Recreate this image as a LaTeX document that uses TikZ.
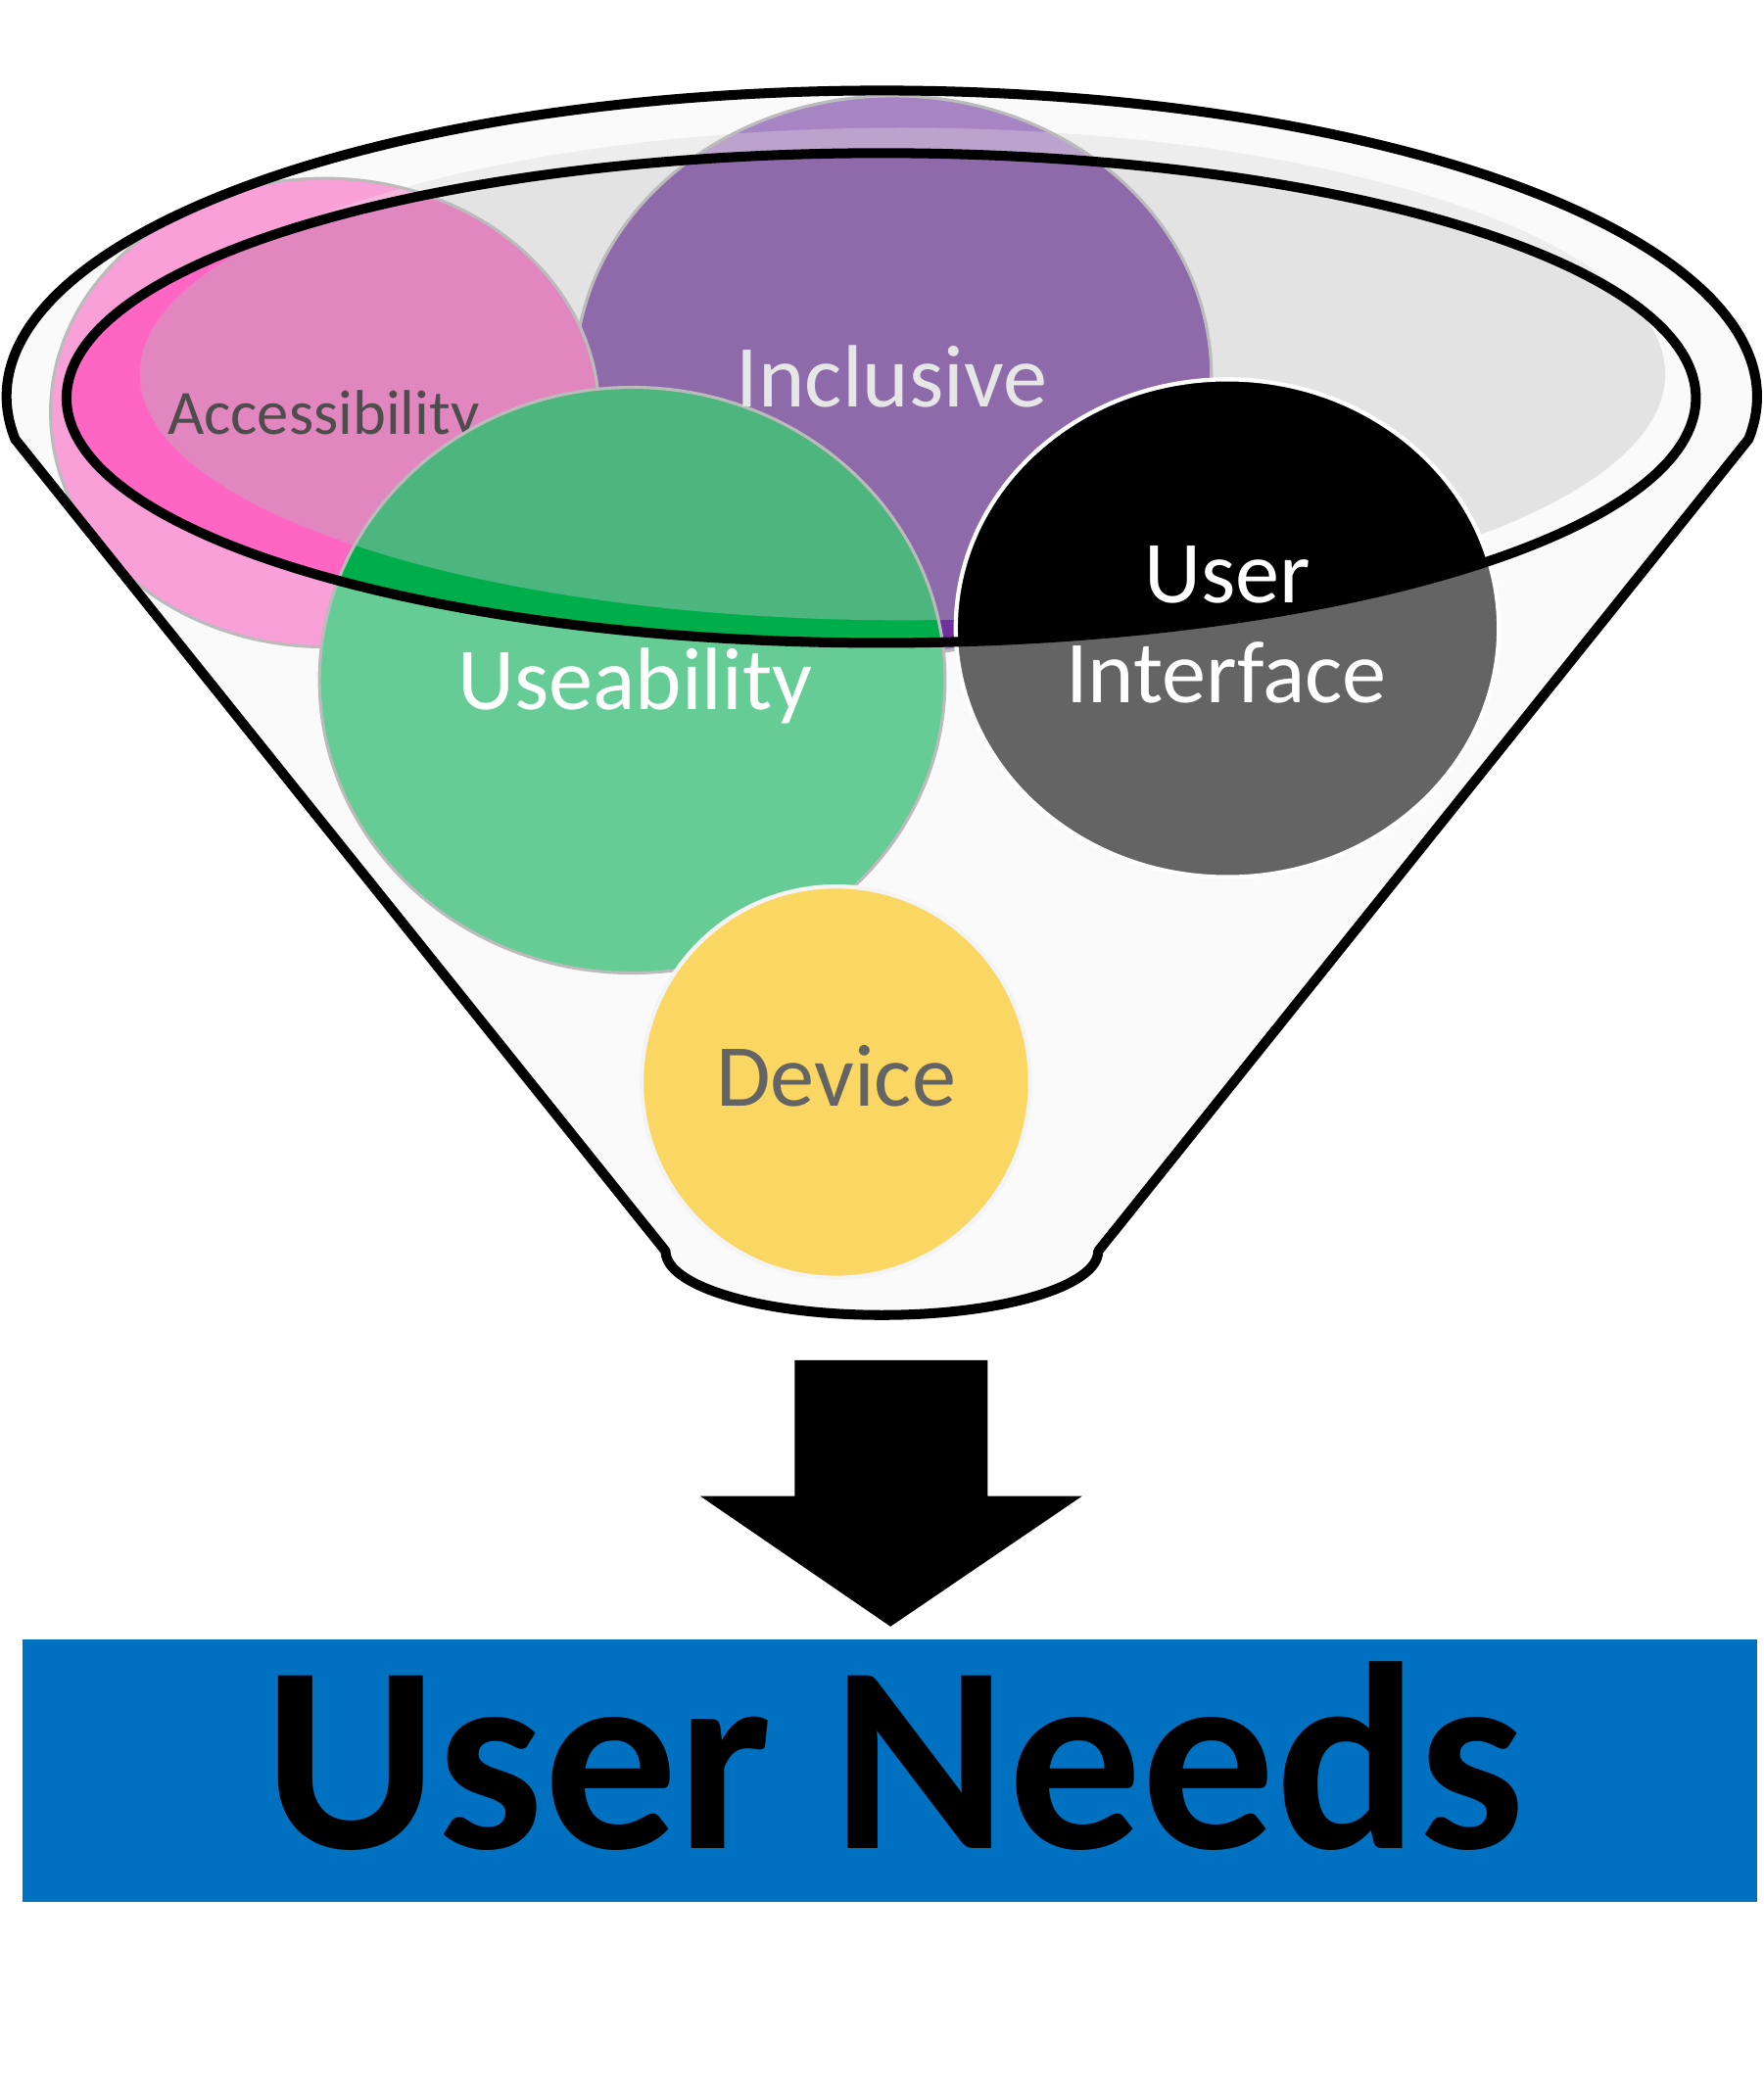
\documentclass[tikz,border=0pt]{standalone}
\usepackage{fontspec}
\setmainfont{Carlito}
\definecolor{funfill}{HTML}{FAFAFA}
\definecolor{bandgray}{HTML}{EDEDED}
\definecolor{ingray}{HTML}{E3E3E3}
\definecolor{pinkA}{HTML}{F9A0D8}
\definecolor{pinkB}{HTML}{F5B7DE}
\definecolor{pinkC}{HTML}{E286C0}
\definecolor{pinkD}{HTML}{FF66C4}
\definecolor{purA}{HTML}{A785C5}
\definecolor{purB}{HTML}{BBA3CD}
\definecolor{purC}{HTML}{8E6AAA}
\definecolor{purD}{HTML}{7030A0}
\definecolor{grnA}{HTML}{66CC96}
\definecolor{grnC}{HTML}{4DB57E}
\definecolor{grnD}{HTML}{00AD4B}
\definecolor{uiA}{HTML}{646464}
\definecolor{devfill}{HTML}{FAD662}
\definecolor{devring}{HTML}{F4F4F4}
\definecolor{ringgray}{HTML}{BBBBBB}
\definecolor{needblue}{HTML}{0070C0}
\definecolor{acctext}{HTML}{4D4D4D}
\definecolor{incltext}{HTML}{E6E6E6}
\definecolor{devtext}{HTML}{646464}
% #1 centre, #2 rx, #3 ry, #4 A (outside), #5 B (grey band outside rim), #6 D (inside rim), #7 C (inside rim and grey), #8 outline
\newcommand\lcirc[8]{%
  \fill[#4] #1 ellipse[x radius=#2,y radius=#3];
  \begin{scope}
    \clip (678,281) ellipse[x radius=573,y radius=185];
    \fill[#5] #1 ellipse[x radius=#2,y radius=#3];
  \end{scope}
  \begin{scope}
    \clip (662,299) ellipse[x radius=612,y radius=184];
    \fill[#6] #1 ellipse[x radius=#2,y radius=#3];
  \end{scope}
  \begin{scope}
    \clip (662,299) ellipse[x radius=612,y radius=184];
    \clip (678,281) ellipse[x radius=573,y radius=185];
    \fill[#7] #1 ellipse[x radius=#2,y radius=#3];
  \end{scope}
  \draw[#8] #1 ellipse[x radius=#2,y radius=#3];
}
\begin{document}
\begin{tikzpicture}[x=0.01cm,y=-0.01cm,
  funnelline/.style={line width=2.1pt,line join=round},
  greyring/.style={draw=ringgray,line width=0.65pt},
  whitering/.style={draw=white,line width=0.9pt},
  bubble/.style={anchor=base,inner sep=0pt,font=\fontsize{18.9}{22}\selectfont}]
\useasboundingbox (0,0) rectangle (1325,1568);
\fill[white] (0,0) rectangle (1325,1568);
% funnel body
\fill[funfill] (11.4,330) arc[start angle=172,end angle=368,x radius=657.5,y radius=230]
  -- (825,940) arc[start angle=0,end angle=180,x radius=162.5,y radius=48] -- cycle;
% grey inner ellipse
\fill[bandgray] (678,281) ellipse[x radius=573,y radius=185];
\begin{scope}
  \clip (662,299) ellipse[x radius=612,y radius=184];
  \fill[funfill] (0,0) rectangle (1325,700);
  \fill[ingray] (678,281) ellipse[x radius=573,y radius=185];
\end{scope}
% bubbles
\lcirc{(671,282)}{239}{210}{purA}{purB}{purD}{purC}{greyring}
\lcirc{(244,310)}{206}{176}{pinkA}{pinkB}{pinkD}{pinkC}{greyring}
\node[anchor=base,inner sep=0pt,text=acctext,font=\fontsize{13.5}{16}\selectfont] (acc) at (243,326) {Accessibility};
\lcirc{(475,511)}{235}{220}{grnA}{grnA}{grnD}{grnC}{greyring}
\lcirc{(922,472)}{204}{187}{uiA}{uiA}{black}{black}{whitering}
\fill[devfill] (628,813) ellipse[x radius=146,y radius=147];
\draw[draw=devring,line width=0.9pt] (628,813) ellipse[x radius=146,y radius=147];
% labels
\node[bubble,text=incltext] (incl) at (670,306) {Inclusive};
\node[bubble,text=white] (use) at (477,533) {Useability};
\node[bubble,text=white] (ui1) at (922,453) {User};
\node[bubble,text=white] (ui2) at (921,528) {Interface};
\node[bubble,text=devtext] (dev) at (628,831) {Device};
% rim and outline
\draw[funnelline] (662,299) ellipse[x radius=612,y radius=184];
\draw[funnelline] (11.4,330) arc[start angle=172,end angle=368,x radius=657.5,y radius=230]
  -- (825,940) arc[start angle=0,end angle=180,x radius=162.5,y radius=48] -- cycle;
% arrow
\fill[black] (597,1022) -- (742,1022) -- (742,1124) -- (813,1124) -- (669,1222)
  -- (526,1124) -- (597,1124) -- cycle;
% result box
\fill[needblue] (17,1232) rectangle (1320,1429);
\node[anchor=base,inner sep=0pt,font=\fontsize{56.9}{60}\selectfont\bfseries] (needs) at (672,1389) {User Needs};
\end{tikzpicture}
\end{document}
